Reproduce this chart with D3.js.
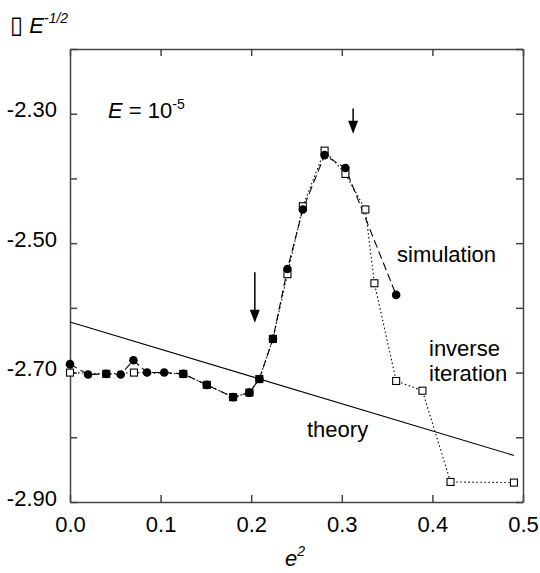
<!DOCTYPE html>
<html><head><meta charset="utf-8">
<script src="https://cdn.jsdelivr.net/npm/d3@7"></script>
<style>
html,body{margin:0;padding:0;background:#fff;}
svg{display:block;font-family:"Liberation Sans",Arial,Helvetica,sans-serif;}
</style></head>
<body><svg id="c" width="540" height="573"></svg>
<script>
// ---- data ----
const simE2 = [0, 0.020, 0.040, 0.056, 0.070, 0.085, 0.104, 0.125, 0.151, 0.180, 0.198, 0.209, 0.224, 0.240, 0.257, 0.281, 0.304, 0.360];
const simVal = [-2.687, -2.703, -2.702, -2.703, -2.681, -2.700, -2.700, -2.702, -2.719, -2.738, -2.731, -2.710, -2.648, -2.540, -2.448, -2.364, -2.384, -2.580];
const invE2 = [0, 0.040, 0.0706, 0.125, 0.151, 0.180, 0.198, 0.209, 0.224, 0.240, 0.257, 0.281, 0.304, 0.326, 0.336, 0.360, 0.389, 0.420, 0.490];
const invVal = [-2.700, -2.702, -2.700, -2.702, -2.719, -2.738, -2.731, -2.710, -2.648, -2.548, -2.443, -2.357, -2.393, -2.448, -2.562, -2.713, -2.728, -2.869, -2.870];
const theoryE2 = [0, 0.49];
const theoryVal = [-2.622, -2.828];
const arrowE2 = [0.204, 0.3125];
const arrowTop = [-2.545, -2.292];
const arrowTip = [-2.623, -2.331];
const xTicks = [0, 0.1, 0.2, 0.3, 0.4, 0.5];
const yTicks = [-2.9, -2.8, -2.7, -2.6, -2.5, -2.4, -2.3, -2.2];
const yLabeled = [-2.9, -2.7, -2.5, -2.3];

const svg = d3.select("#c");
const x = d3.scaleLinear().domain([0, 0.5]).range([70, 523]);
const y = d3.scaleLinear().domain([-2.9, -2.2]).range([502, 49]);
const FS = 22;
const axisCol = "#444";
const fmtY = d => d3.format(".2f")(d).replace("\u2212", "-");

function styleAxis(g){
  g.select(".domain").attr("stroke", axisCol).attr("stroke-width", 1.5);
  g.selectAll(".tick line").attr("stroke", axisCol).attr("stroke-width", 1.5);
  g.selectAll("text").attr("font-size", FS).attr("font-family", "Liberation Sans, Arial, sans-serif").attr("fill", "#000");
}
// bottom
svg.append("g").attr("transform", `translate(0,${y.range()[0]})`)
  .call(d3.axisBottom(x).tickValues(xTicks).tickSizeInner(-7).tickSizeOuter(0).tickPadding(14).tickFormat(d3.format(".1f")))
  .call(styleAxis);
// top
svg.append("g").attr("transform", `translate(0,${y.range()[1]})`)
  .call(d3.axisTop(x).tickValues(xTicks).tickSizeInner(-7).tickSizeOuter(0).tickFormat(""))
  .call(styleAxis);
// left
svg.append("g").attr("transform", `translate(${x.range()[0]},0)`)
  .call(d3.axisLeft(y).tickValues(yTicks).tickSizeInner(-7).tickSizeOuter(0).tickPadding(13)
    .tickFormat(d => yLabeled.some(v => Math.abs(v - d) < 1e-6) ? fmtY(d) : ""))
  .call(styleAxis)
  .call(g => g.selectAll("text").attr("dy", "0.32em").attr("transform", "translate(0,-4)"));
// right
svg.append("g").attr("transform", `translate(${x.range()[1]},0)`)
  .call(d3.axisRight(y).tickValues(yTicks).tickSizeInner(-7).tickSizeOuter(0).tickFormat(""))
  .call(styleAxis);

// theory line
const theory = theoryE2.map((e, i) => [e, theoryVal[i]]);
const line = d3.line().x(d => x(d[0])).y(d => y(d[1]));
svg.append("path").datum(theory).attr("d", line).attr("fill", "none").attr("stroke", "#000").attr("stroke-width", 1.1);

// inverse iteration (dotted)
const inv = invE2.map((e, i) => [e, invVal[i]]);
svg.append("path").datum(inv).attr("d", line).attr("fill", "none").attr("stroke", "#000")
  .attr("stroke-width", 1.1).attr("stroke-dasharray", "1.5,2.5");
// simulation (dashed)
const sim = simE2.map((e, i) => [e, simVal[i]]);
svg.append("path").datum(sim).attr("d", line).attr("fill", "none").attr("stroke", "#000")
  .attr("stroke-width", 1.1).attr("stroke-dasharray", "8,4");

// square markers
const S = 7;
svg.append("g").selectAll("rect").data(inv).join("rect")
  .attr("x", d => x(d[0]) - S/2).attr("y", d => y(d[1]) - S/2)
  .attr("width", S).attr("height", S)
  .attr("fill", "#fff").attr("stroke", "#000").attr("stroke-width", 1.1);
// circle markers
svg.append("g").selectAll("circle").data(sim).join("circle")
  .attr("cx", d => x(d[0])).attr("cy", d => y(d[1])).attr("r", 4.3).attr("fill", "#000");

// arrows
arrowE2.forEach((e, i) => {
  const ax = x(e), yt = y(arrowTop[i]), yp = y(arrowTip[i]);
  svg.append("line").attr("x1", ax).attr("x2", ax).attr("y1", yt).attr("y2", yp - 8)
    .attr("stroke", "#000").attr("stroke-width", 1.5);
  svg.append("path").attr("d", `M${ax - 5},${yp - 13} L${ax + 5},${yp - 13} L${ax},${yp} Z`).attr("fill", "#000");
});

// annotations
function txt(xp, yp, s){
  return svg.append("text").attr("x", xp).attr("y", yp).attr("font-size", FS).attr("fill", "#000").text(s);
}
txt(397, 262, "simulation");
txt(429, 356, "inverse");
txt(429, 381, "iteration");
txt(307, 437, "theory");

// E = 10^-5
const t1 = svg.append("text").attr("x", 108).attr("y", 118).attr("font-size", FS).attr("fill", "#000");
t1.append("tspan").attr("font-style", "italic").text("E");
t1.append("tspan").text(" = 10");
t1.append("tspan").attr("font-size", 14).attr("dy", -9).text("-5");

// y-axis label
const t2 = svg.append("text").attr("x", 10).attr("y", 33).attr("font-size", FS).attr("fill", "#000");
t2.append("tspan").attr("font-style", "italic").attr("font-family", "DejaVu Sans").attr("font-size", 24).text("\u25AF");
t2.append("tspan").attr("font-style", "italic").text(" E");
t2.append("tspan").attr("font-style", "italic").attr("font-size", 14).attr("dy", -10).text("-1/2");

// x-axis label
const t3 = svg.append("text").attr("x", 285).attr("y", 566).attr("font-size", FS).attr("fill", "#000");
t3.append("tspan").attr("font-style", "italic").text("e");
t3.append("tspan").attr("font-style", "italic").attr("font-size", 14).attr("dy", -10).text("2");
</script></body></html>
